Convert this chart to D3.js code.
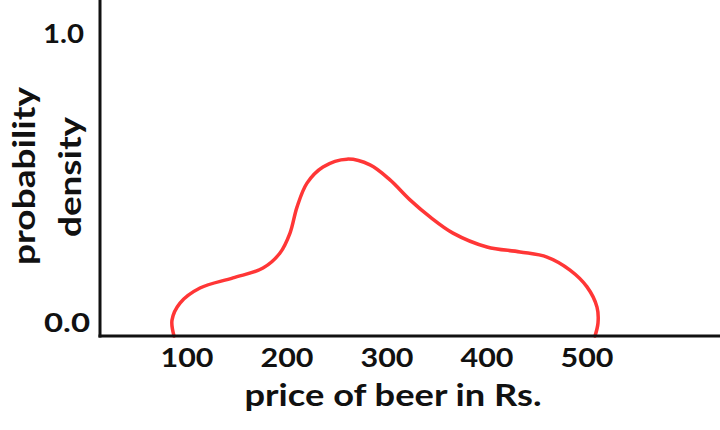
<!DOCTYPE html>
<html>
<head>
<meta charset="utf-8">
<script src="https://cdn.jsdelivr.net/npm/d3@7"></script>
<style>
  html, body { margin: 0; padding: 0; background: #fff; }
  svg { display: block; }
  text { font-family: Lato, "Noto Sans", sans-serif; font-weight: 700; fill: #111; }
</style>
</head>
<body>
<div id="chart"></div>
<script>
// Data
const price = [87, 85, 93, 113, 146, 176, 193, 203, 210, 220, 236, 260, 283, 303, 323, 343, 366, 400, 433, 460, 483, 500, 510, 511, 508];
const density = [0, 0.055, 0.114, 0.166, 0.201, 0.235, 0.287, 0.356, 0.446, 0.529, 0.585, 0.612, 0.592, 0.540, 0.471, 0.412, 0.356, 0.308, 0.291, 0.273, 0.228, 0.170, 0.100, 0.045, 0];
const xTicks = [100, 200, 300, 400, 500];
const yTicks = [0.0, 1.0];
const xTitle = "price of beer in Rs.";
const yTitle = ["probability", "density"];

const W = 720, H = 430;
const svg = d3.select("#chart").append("svg").attr("width", W).attr("height", H);

const axisX = 100, axisY = 336;
const x = d3.scaleLinear().domain([13, 633]).range([axisX, 720]);
const y = d3.scaleLinear().domain([0, 1]).range([axisY, 47]);

// curve
const line = d3.line()
  .x((d, i) => x(price[i]))
  .y((d, i) => y(density[i]))
  .curve(d3.curveCatmullRom.alpha(0.5));
svg.append("path")
  .datum(price)
  .attr("d", line)
  .attr("fill", "none")
  .attr("stroke", "#ff3636")
  .attr("stroke-width", 3.5)
  .attr("stroke-linecap", "round");

// axes lines
svg.append("line").attr("x1", axisX).attr("x2", axisX).attr("y1", 0).attr("y2", axisY + 1.5)
  .attr("stroke", "#111").attr("stroke-width", 3);
svg.append("line").attr("x1", axisX - 1.5).attr("x2", 720).attr("y1", axisY).attr("y2", axisY)
  .attr("stroke", "#111").attr("stroke-width", 3);

// x tick labels
svg.selectAll(".xt").data(xTicks).enter().append("text")
  .attr("class", "xt")
  .attr("x", d => x(d))
  .attr("y", 367)
  .attr("text-anchor", "middle")
  .attr("font-size", 27)
  .attr("textLength", 53)
  .attr("lengthAdjust", "spacingAndGlyphs")
  .text(d => d);

// y tick labels
svg.selectAll(".yt").data(yTicks).enter().append("text")
  .attr("class", "yt")
  .attr("x", d => d === 1 ? 84 : 90)
  .attr("y", d => y(d) - 14)
  .attr("dy", "0.36em")
  .attr("text-anchor", "end")
  .attr("font-size", 27)
  .attr("textLength", d => d === 1 ? 41 : 46)
  .attr("lengthAdjust", "spacingAndGlyphs")
  .text(d => d.toFixed(1));

// x title
svg.append("text")
  .attr("x", 393)
  .attr("y", 406)
  .attr("text-anchor", "middle")
  .attr("font-size", 31)
  .attr("textLength", 297)
  .attr("lengthAdjust", "spacingAndGlyphs")
  .text(xTitle);

// y title
svg.append("text")
  .attr("transform", "translate(35,176) rotate(-90)")
  .attr("text-anchor", "middle")
  .attr("font-size", 31)
  .attr("textLength", 178)
  .attr("lengthAdjust", "spacingAndGlyphs")
  .text(yTitle[0]);
svg.append("text")
  .attr("transform", "translate(81,177) rotate(-90)")
  .attr("text-anchor", "middle")
  .attr("font-size", 31)
  .attr("textLength", 120)
  .attr("lengthAdjust", "spacingAndGlyphs")
  .text(yTitle[1]);
</script>
</body>
</html>
